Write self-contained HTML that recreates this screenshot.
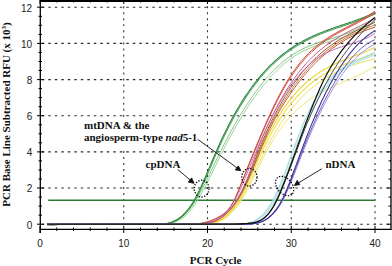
<!DOCTYPE html>
<html><head><meta charset="utf-8"><style>
html,body{margin:0;padding:0;background:#fff;}
svg{display:block;}
.tk{font-family:"Liberation Sans",sans-serif;font-size:10px;fill:#222;}
.tt{font-family:"Liberation Serif",serif;font-size:11px;font-weight:bold;fill:#111;}
</style></head><body>
<svg width="392" height="266" viewBox="0 0 392 266">
<rect width="392" height="266" fill="#fff"/>
<line x1="41.8" y1="224.2" x2="390" y2="224.2" stroke="#2a2a2a" stroke-width="1.1" stroke-dasharray="2.5 4.0"/><line x1="41.8" y1="188.0" x2="390" y2="188.0" stroke="#2a2a2a" stroke-width="1.1" stroke-dasharray="2.5 4.0"/><line x1="41.8" y1="151.9" x2="390" y2="151.9" stroke="#2a2a2a" stroke-width="1.1" stroke-dasharray="2.5 4.0"/><line x1="41.8" y1="115.7" x2="390" y2="115.7" stroke="#2a2a2a" stroke-width="1.1" stroke-dasharray="2.5 4.0"/><line x1="41.8" y1="79.6" x2="390" y2="79.6" stroke="#2a2a2a" stroke-width="1.1" stroke-dasharray="2.5 4.0"/><line x1="41.8" y1="43.4" x2="390" y2="43.4" stroke="#2a2a2a" stroke-width="1.1" stroke-dasharray="2.5 4.0"/><line x1="41.8" y1="7.2" x2="390" y2="7.2" stroke="#2a2a2a" stroke-width="1.1" stroke-dasharray="2.5 4.0"/><line x1="123.75" y1="0.21" x2="123.75" y2="227" stroke="#333" stroke-width="1.1" stroke-dasharray="2 4.027"/><line x1="207.50" y1="0.21" x2="207.50" y2="227" stroke="#333" stroke-width="1.1" stroke-dasharray="2 4.027"/><line x1="291.25" y1="0.21" x2="291.25" y2="227" stroke="#333" stroke-width="1.1" stroke-dasharray="2 4.027"/><line x1="375.00" y1="0.21" x2="375.00" y2="227" stroke="#333" stroke-width="1.1" stroke-dasharray="2 4.027"/>
<line x1="48.2" y1="200.3" x2="375" y2="200.3" stroke="#2b7a34" stroke-width="1.4"/>
<g stroke-linejoin="round">
<path d="M47,224.3 L208,224.3 L209,224.2 L210,224.1 L211,224.0 L212,223.9 L213,223.7 L214,223.4 L215,223.2 L216,222.9 L217,222.5 L218,222.2 L219,221.8 L220,221.3 L221,220.8 L222,220.3 L223,219.8 L224,219.1 L225,218.5 L226,217.8 L227,217.1 L228,216.3 L229,215.4 L230,214.6 L231,213.6 L232,212.6 L233,211.6 L234,210.5 L235,209.3 L236,208.1 L237,206.8 L238,205.5 L239,204.1 L240,202.6 L241,201.1 L242,199.5 L243,197.8 L244,196.1 L245,194.4 L246,192.6 L247,190.7 L248,188.8 L249,186.9 L250,184.9 L251,182.9 L252,180.9 L253,178.9 L254,176.9 L255,174.8 L256,172.7 L257,170.7 L258,168.6 L259,166.5 L260,164.5 L261,162.4 L262,160.4 L263,158.4 L264,156.4 L265,154.5 L266,152.6 L267,150.7 L268,148.9 L269,147.1 L270,145.3 L271,143.6 L272,141.9 L273,140.2 L274,138.6 L275,137.0 L276,135.5 L277,134.0 L278,132.5 L279,131.0 L280,129.6 L281,128.2 L282,126.9 L283,125.6 L284,124.3 L285,123.0 L286,121.8 L287,120.6 L288,119.4 L289,118.2 L290,117.1 L291,116.0 L292,114.9 L293,113.9 L294,112.8 L295,111.8 L296,110.8 L297,109.9 L298,108.9 L299,108.0 L300,107.1 L301,106.3 L302,105.4 L303,104.6 L304,103.8 L305,103.0 L306,102.2 L307,101.4 L308,100.7 L309,100.0 L310,99.3 L311,98.6 L312,97.9 L313,97.3 L314,96.6 L315,96.0 L316,95.4 L317,94.8 L318,94.2 L319,93.6 L320,93.0 L321,92.5 L322,91.9 L323,91.4 L324,90.9 L325,90.3 L326,89.8 L327,89.3 L328,88.8 L329,88.4 L330,87.9 L331,87.4 L332,87.0 L333,86.5 L334,86.0 L335,85.6 L336,85.2 L337,84.7 L338,84.3 L339,83.8 L340,83.4 L341,83.0 L342,82.6 L343,82.1 L344,81.7 L345,81.3 L346,80.8 L347,80.4 L348,80.0 L349,79.6 L350,79.1 L351,78.7 L352,78.2 L353,77.8 L354,77.3 L355,76.9 L356,76.4 L357,76.0 L358,75.5 L359,75.0 L360,74.5 L361,74.0 L362,73.5 L363,73.0 L364,72.5 L365,72.0 L366,71.4 L367,70.9 L368,70.3 L369,69.7 L370,69.2 L371,68.6 L372,67.9 L373,67.3 L374,66.7 L375,66.0" fill="none" stroke="#f2e67c" stroke-width="1.0"/><path d="M47,224.3 L203,224.3 L204,224.2 L205,224.2 L206,224.1 L207,224.0 L208,223.9 L209,223.8 L210,223.6 L211,223.4 L212,223.2 L213,223.0 L214,222.7 L215,222.4 L216,222.1 L217,221.7 L218,221.4 L219,220.9 L220,220.5 L221,219.9 L222,219.4 L223,218.8 L224,218.2 L225,217.5 L226,216.8 L227,216.0 L228,215.2 L229,214.3 L230,213.3 L231,212.4 L232,211.3 L233,210.2 L234,209.0 L235,207.8 L236,206.5 L237,205.2 L238,203.8 L239,202.3 L240,200.8 L241,199.2 L242,197.5 L243,195.8 L244,194.0 L245,192.1 L246,190.2 L247,188.3 L248,186.3 L249,184.3 L250,182.3 L251,180.2 L252,178.1 L253,176.0 L254,173.9 L255,171.8 L256,169.6 L257,167.5 L258,165.4 L259,163.3 L260,161.1 L261,159.0 L262,157.0 L263,154.9 L264,152.9 L265,150.9 L266,148.9 L267,147.0 L268,145.1 L269,143.2 L270,141.4 L271,139.6 L272,137.8 L273,136.1 L274,134.4 L275,132.7 L276,131.1 L277,129.5 L278,127.9 L279,126.3 L280,124.8 L281,123.3 L282,121.8 L283,120.4 L284,118.9 L285,117.5 L286,116.2 L287,114.8 L288,113.5 L289,112.2 L290,110.9 L291,109.6 L292,108.4 L293,107.2 L294,106.0 L295,104.8 L296,103.7 L297,102.5 L298,101.4 L299,100.3 L300,99.3 L301,98.2 L302,97.2 L303,96.2 L304,95.2 L305,94.2 L306,93.3 L307,92.3 L308,91.4 L309,90.5 L310,89.6 L311,88.8 L312,87.9 L313,87.1 L314,86.3 L315,85.5 L316,84.7 L317,83.9 L318,83.2 L319,82.5 L320,81.8 L321,81.1 L322,80.4 L323,79.7 L324,79.0 L325,78.4 L326,77.8 L327,77.1 L328,76.5 L329,76.0 L330,75.4 L331,74.8 L332,74.3 L333,73.7 L334,73.2 L335,72.7 L336,72.2 L337,71.7 L338,71.2 L339,70.7 L340,70.3 L341,69.8 L342,69.4 L343,68.9 L344,68.5 L345,68.1 L346,67.7 L347,67.3 L348,66.9 L349,66.5 L350,66.2 L351,65.8 L352,65.4 L353,65.1 L354,64.8 L355,64.4 L356,64.1 L357,63.8 L358,63.4 L359,63.1 L360,62.8 L361,62.5 L362,62.2 L363,61.9 L364,61.7 L365,61.4 L366,61.1 L367,60.8 L368,60.5 L369,60.3 L370,60.0 L371,59.7 L372,59.5 L373,59.2 L374,59.0 L375,58.7" fill="none" stroke="#f0e060" stroke-width="1.0"/><path d="M47,224.3 L202,224.3 L203,224.2 L204,224.2 L205,224.1 L206,224.1 L207,224.0 L208,223.8 L209,223.7 L210,223.6 L211,223.4 L212,223.2 L213,222.9 L214,222.7 L215,222.4 L216,222.0 L217,221.6 L218,221.2 L219,220.8 L220,220.3 L221,219.7 L222,219.2 L223,218.5 L224,217.9 L225,217.1 L226,216.3 L227,215.5 L228,214.6 L229,213.6 L230,212.6 L231,211.6 L232,210.4 L233,209.2 L234,207.9 L235,206.6 L236,205.2 L237,203.7 L238,202.1 L239,200.5 L240,198.8 L241,197.0 L242,195.1 L243,193.2 L244,191.3 L245,189.3 L246,187.2 L247,185.1 L248,182.9 L249,180.7 L250,178.5 L251,176.3 L252,174.1 L253,171.8 L254,169.5 L255,167.3 L256,165.0 L257,162.7 L258,160.5 L259,158.2 L260,156.0 L261,153.8 L262,151.7 L263,149.6 L264,147.5 L265,145.4 L266,143.4 L267,141.5 L268,139.5 L269,137.6 L270,135.7 L271,133.9 L272,132.1 L273,130.3 L274,128.6 L275,126.9 L276,125.2 L277,123.6 L278,122.0 L279,120.4 L280,118.8 L281,117.3 L282,115.8 L283,114.4 L284,112.9 L285,111.5 L286,110.1 L287,108.8 L288,107.5 L289,106.2 L290,104.9 L291,103.6 L292,102.4 L293,101.2 L294,100.0 L295,98.9 L296,97.7 L297,96.6 L298,95.5 L299,94.5 L300,93.4 L301,92.4 L302,91.4 L303,90.5 L304,89.5 L305,88.6 L306,87.7 L307,86.8 L308,85.9 L309,85.0 L310,84.2 L311,83.4 L312,82.6 L313,81.8 L314,81.1 L315,80.3 L316,79.6 L317,78.9 L318,78.2 L319,77.5 L320,76.8 L321,76.2 L322,75.5 L323,74.9 L324,74.3 L325,73.7 L326,73.1 L327,72.6 L328,72.0 L329,71.5 L330,70.9 L331,70.4 L332,69.9 L333,69.4 L334,68.9 L335,68.5 L336,68.0 L337,67.5 L338,67.1 L339,66.7 L340,66.2 L341,65.8 L342,65.4 L343,65.0 L344,64.6 L345,64.2 L346,63.8 L347,63.4 L348,63.1 L349,62.7 L350,62.3 L351,62.0 L352,61.6 L353,61.3 L354,60.9 L355,60.6 L356,60.2 L357,59.9 L358,59.6 L359,59.2 L360,58.9 L361,58.6 L362,58.2 L363,57.9 L364,57.6 L365,57.3 L366,56.9 L367,56.6 L368,56.3 L369,55.9 L370,55.6 L371,55.3 L372,54.9 L373,54.6 L374,54.3 L375,53.9" fill="none" stroke="#eedc4c" stroke-width="1.1"/><path d="M47,224.3 L197,224.3 L198,224.2 L199,224.2 L200,224.2 L201,224.1 L202,224.1 L203,224.0 L204,224.0 L205,223.9 L206,223.8 L207,223.7 L208,223.5 L209,223.4 L210,223.2 L211,223.0 L212,222.8 L213,222.5 L214,222.2 L215,221.9 L216,221.6 L217,221.2 L218,220.7 L219,220.3 L220,219.7 L221,219.2 L222,218.6 L223,217.9 L224,217.2 L225,216.4 L226,215.6 L227,214.7 L228,213.8 L229,212.8 L230,211.7 L231,210.5 L232,209.3 L233,208.1 L234,206.7 L235,205.3 L236,203.8 L237,202.2 L238,200.5 L239,198.8 L240,197.0 L241,195.1 L242,193.2 L243,191.2 L244,189.1 L245,187.0 L246,184.8 L247,182.6 L248,180.4 L249,178.1 L250,175.8 L251,173.5 L252,171.1 L253,168.8 L254,166.4 L255,164.1 L256,161.8 L257,159.4 L258,157.1 L259,154.8 L260,152.6 L261,150.3 L262,148.1 L263,146.0 L264,143.8 L265,141.7 L266,139.7 L267,137.6 L268,135.6 L269,133.7 L270,131.7 L271,129.9 L272,128.0 L273,126.2 L274,124.4 L275,122.6 L276,120.9 L277,119.2 L278,117.5 L279,115.9 L280,114.3 L281,112.7 L282,111.2 L283,109.7 L284,108.2 L285,106.8 L286,105.4 L287,104.0 L288,102.6 L289,101.3 L290,100.0 L291,98.8 L292,97.5 L293,96.3 L294,95.1 L295,94.0 L296,92.8 L297,91.7 L298,90.6 L299,89.6 L300,88.5 L301,87.5 L302,86.5 L303,85.6 L304,84.6 L305,83.7 L306,82.8 L307,81.9 L308,81.0 L309,80.2 L310,79.4 L311,78.6 L312,77.8 L313,77.0 L314,76.3 L315,75.5 L316,74.8 L317,74.1 L318,73.5 L319,72.8 L320,72.1 L321,71.5 L322,70.9 L323,70.3 L324,69.7 L325,69.1 L326,68.5 L327,68.0 L328,67.4 L329,66.9 L330,66.4 L331,65.9 L332,65.4 L333,64.9 L334,64.4 L335,63.9 L336,63.5 L337,63.0 L338,62.6 L339,62.1 L340,61.7 L341,61.3 L342,60.9 L343,60.4 L344,60.0 L345,59.6 L346,59.2 L347,58.8 L348,58.4 L349,58.0 L350,57.6 L351,57.3 L352,56.9 L353,56.5 L354,56.1 L355,55.7 L356,55.3 L357,54.9 L358,54.6 L359,54.2 L360,53.8 L361,53.4 L362,53.0 L363,52.6 L364,52.2 L365,51.8 L366,51.4 L367,51.0 L368,50.5 L369,50.1 L370,49.7 L371,49.2 L372,48.8 L373,48.3 L374,47.9 L375,47.4" fill="none" stroke="#ecd640" stroke-width="1.2"/><path d="M47,224.3 L164,224.3 L165,224.2 L166,224.2 L167,224.1 L168,224.0 L169,223.8 L170,223.6 L171,223.4 L172,223.1 L173,222.9 L174,222.5 L175,222.2 L176,221.8 L177,221.3 L178,220.9 L179,220.3 L180,219.8 L181,219.1 L182,218.5 L183,217.7 L184,217.0 L185,216.1 L186,215.2 L187,214.3 L188,213.2 L189,212.2 L190,211.0 L191,209.8 L192,208.5 L193,207.2 L194,205.8 L195,204.3 L196,202.8 L197,201.2 L198,199.6 L199,197.9 L200,196.2 L201,194.4 L202,192.6 L203,190.8 L204,188.9 L205,187.0 L206,185.1 L207,183.1 L208,181.2 L209,179.2 L210,177.2 L211,175.1 L212,173.1 L213,171.0 L214,169.0 L215,166.9 L216,164.9 L217,162.8 L218,160.8 L219,158.7 L220,156.7 L221,154.6 L222,152.6 L223,150.6 L224,148.7 L225,146.7 L226,144.8 L227,142.8 L228,140.9 L229,139.1 L230,137.2 L231,135.3 L232,133.5 L233,131.7 L234,129.9 L235,128.1 L236,126.4 L237,124.6 L238,122.9 L239,121.2 L240,119.5 L241,117.9 L242,116.2 L243,114.6 L244,113.0 L245,111.4 L246,109.8 L247,108.3 L248,106.7 L249,105.2 L250,103.7 L251,102.2 L252,100.8 L253,99.3 L254,97.9 L255,96.5 L256,95.1 L257,93.7 L258,92.4 L259,91.1 L260,89.7 L261,88.5 L262,87.2 L263,85.9 L264,84.7 L265,83.5 L266,82.3 L267,81.1 L268,79.9 L269,78.8 L270,77.7 L271,76.6 L272,75.5 L273,74.4 L274,73.4 L275,72.3 L276,71.3 L277,70.3 L278,69.4 L279,68.4 L280,67.5 L281,66.6 L282,65.7 L283,64.8 L284,64.0 L285,63.1 L286,62.3 L287,61.5 L288,60.7 L289,60.0 L290,59.2 L291,58.5 L292,57.8 L293,57.1 L294,56.5 L295,55.8 L296,55.2 L297,54.6 L298,54.0 L299,53.4 L300,52.9 L301,52.3 L302,51.8 L303,51.3 L304,50.8 L305,50.3 L306,49.8 L307,49.4 L308,48.9 L309,48.5 L310,48.1 L311,47.7 L312,47.3 L313,46.9 L314,46.5 L315,46.1 L316,45.7 L317,45.4 L318,45.0 L319,44.7 L320,44.4 L321,44.0 L322,43.7 L323,43.4 L324,43.1 L325,42.8 L326,42.5 L327,42.2 L328,41.9 L329,41.6 L330,41.3 L331,41.0 L332,40.7 L333,40.4 L334,40.1 L335,39.8 L336,39.5 L337,39.2 L338,38.8 L339,38.5 L340,38.2 L341,37.9 L342,37.6 L343,37.3 L344,36.9 L345,36.6 L346,36.2 L347,35.9 L348,35.5 L349,35.2 L350,34.8 L351,34.4 L352,34.0 L353,33.6 L354,33.2 L355,32.8 L356,32.3 L357,31.9 L358,31.4 L359,30.9 L360,30.4 L361,29.9 L362,29.4 L363,28.9 L364,28.3 L365,27.8 L366,27.2 L367,26.6 L368,26.0 L369,25.3 L370,24.7 L371,24.0 L372,23.3 L373,22.6 L374,21.9 L375,21.1" fill="none" stroke="#98d498" stroke-width="1.0"/><path d="M47,224.3 L162,224.3 L163,224.2 L164,224.2 L165,224.1 L166,224.0 L167,223.8 L168,223.7 L169,223.5 L170,223.2 L171,222.9 L172,222.6 L173,222.3 L174,221.9 L175,221.5 L176,221.0 L177,220.5 L178,219.9 L179,219.3 L180,218.6 L181,217.9 L182,217.2 L183,216.3 L184,215.4 L185,214.5 L186,213.5 L187,212.4 L188,211.3 L189,210.1 L190,208.8 L191,207.5 L192,206.1 L193,204.6 L194,203.1 L195,201.5 L196,199.9 L197,198.2 L198,196.5 L199,194.7 L200,192.9 L201,191.1 L202,189.2 L203,187.3 L204,185.3 L205,183.4 L206,181.4 L207,179.4 L208,177.3 L209,175.3 L210,173.2 L211,171.2 L212,169.1 L213,167.0 L214,164.9 L215,162.8 L216,160.8 L217,158.7 L218,156.6 L219,154.6 L220,152.5 L221,150.5 L222,148.5 L223,146.5 L224,144.6 L225,142.6 L226,140.7 L227,138.8 L228,136.9 L229,135.0 L230,133.2 L231,131.3 L232,129.5 L233,127.7 L234,125.9 L235,124.2 L236,122.4 L237,120.7 L238,119.0 L239,117.3 L240,115.6 L241,114.0 L242,112.4 L243,110.8 L244,109.2 L245,107.6 L246,106.0 L247,104.5 L248,103.0 L249,101.5 L250,100.0 L251,98.5 L252,97.1 L253,95.7 L254,94.3 L255,92.9 L256,91.5 L257,90.2 L258,88.8 L259,87.5 L260,86.2 L261,85.0 L262,83.7 L263,82.5 L264,81.3 L265,80.1 L266,78.9 L267,77.7 L268,76.6 L269,75.5 L270,74.4 L271,73.3 L272,72.2 L273,71.2 L274,70.2 L275,69.2 L276,68.2 L277,67.2 L278,66.3 L279,65.4 L280,64.5 L281,63.6 L282,62.7 L283,61.8 L284,61.0 L285,60.2 L286,59.4 L287,58.6 L288,57.9 L289,57.2 L290,56.5 L291,55.8 L292,55.1 L293,54.4 L294,53.8 L295,53.2 L296,52.6 L297,52.0 L298,51.4 L299,50.9 L300,50.3 L301,49.8 L302,49.3 L303,48.8 L304,48.3 L305,47.9 L306,47.4 L307,47.0 L308,46.5 L309,46.1 L310,45.7 L311,45.3 L312,44.9 L313,44.5 L314,44.2 L315,43.8 L316,43.4 L317,43.1 L318,42.8 L319,42.4 L320,42.1 L321,41.8 L322,41.4 L323,41.1 L324,40.8 L325,40.5 L326,40.2 L327,39.9 L328,39.6 L329,39.3 L330,39.0 L331,38.7 L332,38.4 L333,38.1 L334,37.8 L335,37.5 L336,37.2 L337,36.9 L338,36.5 L339,36.2 L340,35.9 L341,35.6 L342,35.2 L343,34.9 L344,34.5 L345,34.2 L346,33.8 L347,33.5 L348,33.1 L349,32.7 L350,32.3 L351,31.9 L352,31.5 L353,31.1 L354,30.6 L355,30.2 L356,29.7 L357,29.2 L358,28.7 L359,28.2 L360,27.7 L361,27.2 L362,26.6 L363,26.1 L364,25.5 L365,24.9 L366,24.3 L367,23.6 L368,23.0 L369,22.3 L370,21.6 L371,20.9 L372,20.2 L373,19.4 L374,18.7 L375,17.9" fill="none" stroke="#80c682" stroke-width="1.0"/><path d="M47,224.3 L160,224.3 L161,224.2 L162,224.2 L163,224.1 L164,224.0 L165,223.9 L166,223.8 L167,223.6 L168,223.4 L169,223.2 L170,222.9 L171,222.6 L172,222.3 L173,221.9 L174,221.5 L175,221.1 L176,220.6 L177,220.1 L178,219.5 L179,218.9 L180,218.2 L181,217.4 L182,216.7 L183,215.8 L184,214.9 L185,213.9 L186,212.9 L187,211.8 L188,210.6 L189,209.4 L190,208.1 L191,206.7 L192,205.2 L193,203.7 L194,202.1 L195,200.4 L196,198.6 L197,196.8 L198,194.9 L199,192.9 L200,190.9 L201,188.8 L202,186.7 L203,184.5 L204,182.3 L205,180.0 L206,177.8 L207,175.5 L208,173.2 L209,170.8 L210,168.5 L211,166.1 L212,163.8 L213,161.4 L214,159.1 L215,156.7 L216,154.4 L217,152.1 L218,149.8 L219,147.6 L220,145.4 L221,143.2 L222,141.0 L223,138.9 L224,136.8 L225,134.7 L226,132.7 L227,130.6 L228,128.7 L229,126.7 L230,124.8 L231,122.8 L232,121.0 L233,119.1 L234,117.3 L235,115.5 L236,113.7 L237,112.0 L238,110.2 L239,108.5 L240,106.9 L241,105.2 L242,103.6 L243,102.0 L244,100.4 L245,98.9 L246,97.4 L247,95.9 L248,94.4 L249,92.9 L250,91.5 L251,90.1 L252,88.7 L253,87.4 L254,86.0 L255,84.7 L256,83.4 L257,82.1 L258,80.9 L259,79.6 L260,78.4 L261,77.2 L262,76.1 L263,74.9 L264,73.8 L265,72.7 L266,71.6 L267,70.5 L268,69.4 L269,68.4 L270,67.4 L271,66.4 L272,65.4 L273,64.4 L274,63.5 L275,62.6 L276,61.6 L277,60.7 L278,59.9 L279,59.0 L280,58.1 L281,57.3 L282,56.5 L283,55.7 L284,54.9 L285,54.1 L286,53.4 L287,52.6 L288,51.9 L289,51.2 L290,50.5 L291,49.8 L292,49.1 L293,48.4 L294,47.8 L295,47.1 L296,46.5 L297,45.9 L298,45.3 L299,44.7 L300,44.1 L301,43.5 L302,42.9 L303,42.4 L304,41.9 L305,41.3 L306,40.8 L307,40.3 L308,39.8 L309,39.3 L310,38.8 L311,38.3 L312,37.9 L313,37.4 L314,36.9 L315,36.5 L316,36.0 L317,35.6 L318,35.2 L319,34.8 L320,34.4 L321,33.9 L322,33.5 L323,33.1 L324,32.8 L325,32.4 L326,32.0 L327,31.6 L328,31.2 L329,30.9 L330,30.5 L331,30.1 L332,29.8 L333,29.4 L334,29.1 L335,28.7 L336,28.4 L337,28.0 L338,27.7 L339,27.4 L340,27.0 L341,26.7 L342,26.3 L343,26.0 L344,25.7 L345,25.3 L346,25.0 L347,24.7 L348,24.3 L349,24.0 L350,23.6 L351,23.3 L352,23.0 L353,22.6 L354,22.3 L355,21.9 L356,21.6 L357,21.2 L358,20.9 L359,20.5 L360,20.1 L361,19.8 L362,19.4 L363,19.0 L364,18.6 L365,18.3 L366,17.9 L367,17.5 L368,17.1 L369,16.7 L370,16.3 L371,15.9 L372,15.4 L373,15.0 L374,14.6 L375,14.1" fill="none" stroke="#3f9a52" stroke-width="1.0"/><path d="M47,224.3 L159,224.3 L160,224.2 L161,224.2 L162,224.1 L163,224.0 L164,223.9 L165,223.8 L166,223.6 L167,223.4 L168,223.2 L169,222.9 L170,222.6 L171,222.3 L172,221.9 L173,221.5 L174,221.1 L175,220.6 L176,220.1 L177,219.5 L178,218.9 L179,218.2 L180,217.5 L181,216.7 L182,215.9 L183,215.0 L184,214.0 L185,213.0 L186,211.9 L187,210.7 L188,209.5 L189,208.2 L190,206.8 L191,205.3 L192,203.8 L193,202.2 L194,200.5 L195,198.7 L196,196.8 L197,194.9 L198,193.0 L199,190.9 L200,188.9 L201,186.7 L202,184.5 L203,182.3 L204,180.1 L205,177.8 L206,175.5 L207,173.2 L208,170.8 L209,168.4 L210,166.1 L211,163.7 L212,161.3 L213,159.0 L214,156.6 L215,154.3 L216,152.0 L217,149.7 L218,147.5 L219,145.2 L220,143.0 L221,140.8 L222,138.7 L223,136.6 L224,134.5 L225,132.4 L226,130.4 L227,128.4 L228,126.4 L229,124.5 L230,122.5 L231,120.7 L232,118.8 L233,116.9 L234,115.1 L235,113.4 L236,111.6 L237,109.9 L238,108.2 L239,106.5 L240,104.8 L241,103.2 L242,101.6 L243,100.0 L244,98.4 L245,96.9 L246,95.4 L247,93.9 L248,92.5 L249,91.0 L250,89.6 L251,88.2 L252,86.8 L253,85.5 L254,84.2 L255,82.9 L256,81.6 L257,80.3 L258,79.1 L259,77.9 L260,76.7 L261,75.5 L262,74.3 L263,73.2 L264,72.1 L265,71.0 L266,69.9 L267,68.8 L268,67.8 L269,66.7 L270,65.7 L271,64.7 L272,63.8 L273,62.8 L274,61.9 L275,61.0 L276,60.1 L277,59.2 L278,58.3 L279,57.4 L280,56.6 L281,55.8 L282,55.0 L283,54.2 L284,53.4 L285,52.6 L286,51.9 L287,51.1 L288,50.4 L289,49.7 L290,49.0 L291,48.3 L292,47.7 L293,47.0 L294,46.3 L295,45.7 L296,45.1 L297,44.5 L298,43.9 L299,43.3 L300,42.7 L301,42.2 L302,41.6 L303,41.0 L304,40.5 L305,40.0 L306,39.5 L307,39.0 L308,38.5 L309,38.0 L310,37.5 L311,37.0 L312,36.6 L313,36.1 L314,35.6 L315,35.2 L316,34.8 L317,34.3 L318,33.9 L319,33.5 L320,33.1 L321,32.7 L322,32.3 L323,31.9 L324,31.5 L325,31.1 L326,30.7 L327,30.4 L328,30.0 L329,29.6 L330,29.3 L331,28.9 L332,28.5 L333,28.2 L334,27.8 L335,27.5 L336,27.1 L337,26.8 L338,26.5 L339,26.1 L340,25.8 L341,25.4 L342,25.1 L343,24.8 L344,24.4 L345,24.1 L346,23.7 L347,23.4 L348,23.1 L349,22.7 L350,22.4 L351,22.0 L352,21.7 L353,21.3 L354,21.0 L355,20.6 L356,20.3 L357,19.9 L358,19.6 L359,19.2 L360,18.8 L361,18.5 L362,18.1 L363,17.7 L364,17.3 L365,16.9 L366,16.5 L367,16.1 L368,15.7 L369,15.3 L370,14.9 L371,14.5 L372,14.0 L373,13.6 L374,13.2 L375,12.7" fill="none" stroke="#28853a" stroke-width="1.1"/><path d="M47,224.3 L201,224.3 L202,224.2 L203,224.1 L204,224.0 L205,223.9 L206,223.7 L207,223.5 L208,223.3 L209,223.1 L210,222.8 L211,222.5 L212,222.2 L213,221.9 L214,221.5 L215,221.1 L216,220.6 L217,220.1 L218,219.6 L219,219.0 L220,218.4 L221,217.8 L222,217.1 L223,216.4 L224,215.6 L225,214.8 L226,213.9 L227,213.0 L228,212.0 L229,211.0 L230,209.9 L231,208.8 L232,207.6 L233,206.4 L234,205.1 L235,203.7 L236,202.3 L237,200.8 L238,199.3 L239,197.7 L240,196.0 L241,194.3 L242,192.5 L243,190.6 L244,188.7 L245,186.7 L246,184.6 L247,182.4 L248,180.2 L249,178.0 L250,175.7 L251,173.4 L252,171.0 L253,168.6 L254,166.2 L255,163.7 L256,161.3 L257,158.8 L258,156.3 L259,153.9 L260,151.4 L261,149.0 L262,146.6 L263,144.2 L264,141.8 L265,139.5 L266,137.2 L267,135.0 L268,132.8 L269,130.7 L270,128.6 L271,126.6 L272,124.6 L273,122.6 L274,120.7 L275,118.8 L276,117.0 L277,115.2 L278,113.4 L279,111.7 L280,110.0 L281,108.3 L282,106.7 L283,105.1 L284,103.5 L285,101.9 L286,100.3 L287,98.8 L288,97.3 L289,95.8 L290,94.3 L291,92.9 L292,91.4 L293,90.0 L294,88.6 L295,87.2 L296,85.8 L297,84.5 L298,83.1 L299,81.8 L300,80.5 L301,79.2 L302,78.0 L303,76.8 L304,75.5 L305,74.3 L306,73.2 L307,72.0 L308,70.9 L309,69.7 L310,68.6 L311,67.6 L312,66.5 L313,65.4 L314,64.4 L315,63.4 L316,62.4 L317,61.4 L318,60.5 L319,59.5 L320,58.6 L321,57.7 L322,56.8 L323,55.9 L324,55.0 L325,54.2 L326,53.3 L327,52.5 L328,51.7 L329,50.9 L330,50.1 L331,49.4 L332,48.6 L333,47.9 L334,47.2 L335,46.5 L336,45.8 L337,45.1 L338,44.4 L339,43.8 L340,43.1 L341,42.5 L342,41.9 L343,41.3 L344,40.7 L345,40.1 L346,39.5 L347,39.0 L348,38.4 L349,37.9 L350,37.4 L351,36.8 L352,36.3 L353,35.8 L354,35.4 L355,34.9 L356,34.4 L357,34.0 L358,33.5 L359,33.1 L360,32.6 L361,32.2 L362,31.8 L363,31.4 L364,31.0 L365,30.6 L366,30.2 L367,29.9 L368,29.5 L369,29.1 L370,28.8 L371,28.4 L372,28.1 L373,27.7 L374,27.4 L375,27.1" fill="none" stroke="#c05a34" stroke-width="1.0"/><path d="M47,224.3 L199,224.3 L200,224.2 L201,224.2 L202,224.1 L203,224.1 L204,224.0 L205,223.8 L206,223.6 L207,223.5 L208,223.2 L209,223.0 L210,222.7 L211,222.4 L212,222.1 L213,221.8 L214,221.4 L215,221.0 L216,220.5 L217,220.0 L218,219.5 L219,218.9 L220,218.3 L221,217.7 L222,217.0 L223,216.3 L224,215.5 L225,214.7 L226,213.8 L227,212.9 L228,211.9 L229,210.9 L230,209.8 L231,208.7 L232,207.5 L233,206.2 L234,204.9 L235,203.5 L236,202.0 L237,200.5 L238,198.9 L239,197.3 L240,195.6 L241,193.8 L242,191.9 L243,190.0 L244,188.0 L245,186.0 L246,183.8 L247,181.6 L248,179.3 L249,177.0 L250,174.6 L251,172.1 L252,169.7 L253,167.1 L254,164.6 L255,162.1 L256,159.5 L257,157.0 L258,154.4 L259,151.9 L260,149.4 L261,147.0 L262,144.6 L263,142.2 L264,139.8 L265,137.5 L266,135.3 L267,133.0 L268,130.8 L269,128.7 L270,126.6 L271,124.5 L272,122.5 L273,120.6 L274,118.6 L275,116.7 L276,114.9 L277,113.0 L278,111.2 L279,109.5 L280,107.7 L281,106.0 L282,104.4 L283,102.7 L284,101.1 L285,99.5 L286,97.9 L287,96.4 L288,94.8 L289,93.3 L290,91.8 L291,90.4 L292,88.9 L293,87.5 L294,86.1 L295,84.7 L296,83.3 L297,82.0 L298,80.6 L299,79.3 L300,78.0 L301,76.8 L302,75.5 L303,74.3 L304,73.1 L305,71.9 L306,70.8 L307,69.6 L308,68.5 L309,67.4 L310,66.3 L311,65.2 L312,64.2 L313,63.2 L314,62.2 L315,61.2 L316,60.2 L317,59.2 L318,58.3 L319,57.4 L320,56.5 L321,55.6 L322,54.7 L323,53.8 L324,53.0 L325,52.2 L326,51.3 L327,50.5 L328,49.8 L329,49.0 L330,48.2 L331,47.5 L332,46.8 L333,46.1 L334,45.3 L335,44.7 L336,44.0 L337,43.3 L338,42.7 L339,42.0 L340,41.4 L341,40.8 L342,40.2 L343,39.6 L344,39.0 L345,38.4 L346,37.9 L347,37.3 L348,36.8 L349,36.2 L350,35.7 L351,35.2 L352,34.7 L353,34.2 L354,33.7 L355,33.2 L356,32.7 L357,32.3 L358,31.8 L359,31.4 L360,30.9 L361,30.5 L362,30.0 L363,29.6 L364,29.2 L365,28.8 L366,28.4 L367,28.0 L368,27.6 L369,27.2 L370,26.8 L371,26.4 L372,26.0 L373,25.6 L374,25.2 L375,24.9" fill="none" stroke="#d8783e" stroke-width="1.0"/><path d="M47,224.3 L196,224.3 L197,224.2 L198,224.2 L199,224.2 L200,224.2 L201,224.1 L202,224.1 L203,224.0 L204,223.9 L205,223.7 L206,223.5 L207,223.3 L208,223.1 L209,222.9 L210,222.6 L211,222.3 L212,222.0 L213,221.6 L214,221.2 L215,220.8 L216,220.4 L217,219.9 L218,219.3 L219,218.8 L220,218.2 L221,217.5 L222,216.9 L223,216.1 L224,215.4 L225,214.5 L226,213.7 L227,212.7 L228,211.8 L229,210.7 L230,209.6 L231,208.4 L232,207.2 L233,205.9 L234,204.5 L235,203.1 L236,201.6 L237,200.0 L238,198.4 L239,196.7 L240,194.9 L241,193.1 L242,191.2 L243,189.2 L244,187.2 L245,185.1 L246,182.8 L247,180.5 L248,178.2 L249,175.7 L250,173.2 L251,170.6 L252,168.0 L253,165.4 L254,162.8 L255,160.1 L256,157.5 L257,154.8 L258,152.2 L259,149.7 L260,147.2 L261,144.7 L262,142.3 L263,139.9 L264,137.6 L265,135.3 L266,133.0 L267,130.8 L268,128.6 L269,126.4 L270,124.3 L271,122.2 L272,120.2 L273,118.2 L274,116.2 L275,114.3 L276,112.4 L277,110.5 L278,108.7 L279,106.9 L280,105.2 L281,103.4 L282,101.7 L283,100.0 L284,98.4 L285,96.8 L286,95.2 L287,93.6 L288,92.0 L289,90.5 L290,89.0 L291,87.5 L292,86.1 L293,84.6 L294,83.2 L295,81.8 L296,80.5 L297,79.1 L298,77.8 L299,76.5 L300,75.2 L301,74.0 L302,72.7 L303,71.5 L304,70.3 L305,69.2 L306,68.0 L307,66.9 L308,65.8 L309,64.7 L310,63.6 L311,62.6 L312,61.6 L313,60.6 L314,59.6 L315,58.6 L316,57.7 L317,56.7 L318,55.8 L319,54.9 L320,54.0 L321,53.2 L322,52.3 L323,51.5 L324,50.7 L325,49.9 L326,49.1 L327,48.3 L328,47.5 L329,46.8 L330,46.1 L331,45.3 L332,44.6 L333,43.9 L334,43.3 L335,42.6 L336,41.9 L337,41.3 L338,40.7 L339,40.0 L340,39.4 L341,38.8 L342,38.2 L343,37.7 L344,37.1 L345,36.5 L346,36.0 L347,35.4 L348,34.9 L349,34.4 L350,33.8 L351,33.3 L352,32.8 L353,32.3 L354,31.8 L355,31.3 L356,30.8 L357,30.4 L358,29.9 L359,29.4 L360,29.0 L361,28.5 L362,28.0 L363,27.6 L364,27.1 L365,26.7 L366,26.2 L367,25.8 L368,25.4 L369,24.9 L370,24.5 L371,24.0 L372,23.6 L373,23.2 L374,22.7 L375,22.3" fill="none" stroke="#9a5c32" stroke-width="1.0"/><path d="M47,224.3 L195,224.3 L196,224.2 L197,224.2 L198,224.2 L199,224.2 L200,224.1 L201,224.1 L202,224.0 L203,223.9 L204,223.8 L205,223.6 L206,223.4 L207,223.2 L208,223.0 L209,222.7 L210,222.5 L211,222.2 L212,221.8 L213,221.5 L214,221.1 L215,220.6 L216,220.2 L217,219.7 L218,219.2 L219,218.6 L220,218.0 L221,217.4 L222,216.7 L223,216.0 L224,215.2 L225,214.4 L226,213.5 L227,212.6 L228,211.6 L229,210.5 L230,209.4 L231,208.2 L232,206.9 L233,205.6 L234,204.2 L235,202.7 L236,201.1 L237,199.4 L238,197.7 L239,196.0 L240,194.1 L241,192.2 L242,190.3 L243,188.3 L244,186.2 L245,184.0 L246,181.6 L247,179.2 L248,176.7 L249,174.0 L250,171.3 L251,168.5 L252,165.7 L253,162.9 L254,160.0 L255,157.2 L256,154.4 L257,151.6 L258,148.9 L259,146.2 L260,143.6 L261,141.1 L262,138.7 L263,136.4 L264,134.0 L265,131.7 L266,129.5 L267,127.2 L268,125.0 L269,122.8 L270,120.7 L271,118.6 L272,116.5 L273,114.5 L274,112.5 L275,110.5 L276,108.6 L277,106.7 L278,104.8 L279,102.9 L280,101.1 L281,99.3 L282,97.6 L283,95.9 L284,94.2 L285,92.5 L286,90.9 L287,89.3 L288,87.7 L289,86.1 L290,84.6 L291,83.1 L292,81.6 L293,80.2 L294,78.8 L295,77.4 L296,76.0 L297,74.7 L298,73.4 L299,72.1 L300,70.8 L301,69.6 L302,68.4 L303,67.2 L304,66.0 L305,64.9 L306,63.7 L307,62.6 L308,61.6 L309,60.5 L310,59.5 L311,58.5 L312,57.5 L313,56.5 L314,55.5 L315,54.6 L316,53.7 L317,52.8 L318,51.9 L319,51.1 L320,50.2 L321,49.4 L322,48.6 L323,47.8 L324,47.0 L325,46.3 L326,45.5 L327,44.8 L328,44.1 L329,43.3 L330,42.7 L331,42.0 L332,41.3 L333,40.6 L334,40.0 L335,39.4 L336,38.7 L337,38.1 L338,37.5 L339,36.9 L340,36.3 L341,35.8 L342,35.2 L343,34.6 L344,34.1 L345,33.5 L346,33.0 L347,32.5 L348,31.9 L349,31.4 L350,30.9 L351,30.4 L352,29.9 L353,29.4 L354,28.9 L355,28.4 L356,27.9 L357,27.4 L358,26.9 L359,26.4 L360,25.9 L361,25.4 L362,24.9 L363,24.4 L364,23.9 L365,23.4 L366,22.9 L367,22.4 L368,21.9 L369,21.4 L370,20.9 L371,20.4 L372,19.9 L373,19.4 L374,18.8 L375,18.3" fill="none" stroke="#c85c84" stroke-width="1.0"/><path d="M47,224.3 L192,224.3 L193,224.2 L194,224.2 L195,224.1 L196,224.0 L197,223.9 L198,223.8 L199,223.7 L200,223.5 L201,223.4 L202,223.2 L203,223.0 L204,222.8 L205,222.6 L206,222.3 L207,222.1 L208,221.8 L209,221.5 L210,221.1 L211,220.8 L212,220.4 L213,220.0 L214,219.6 L215,219.1 L216,218.7 L217,218.2 L218,217.6 L219,217.1 L220,216.5 L221,215.9 L222,215.2 L223,214.5 L224,213.8 L225,212.9 L226,212.0 L227,211.0 L228,210.0 L229,208.8 L230,207.4 L231,206.0 L232,204.4 L233,202.7 L234,200.8 L235,198.8 L236,196.6 L237,194.4 L238,192.0 L239,189.7 L240,187.2 L241,184.8 L242,182.3 L243,179.9 L244,177.4 L245,174.9 L246,172.4 L247,170.0 L248,167.5 L249,165.1 L250,162.6 L251,160.2 L252,157.7 L253,155.3 L254,152.8 L255,150.4 L256,148.0 L257,145.6 L258,143.2 L259,140.8 L260,138.4 L261,136.1 L262,133.7 L263,131.4 L264,129.1 L265,126.8 L266,124.5 L267,122.3 L268,120.0 L269,117.8 L270,115.7 L271,113.5 L272,111.4 L273,109.3 L274,107.2 L275,105.2 L276,103.2 L277,101.2 L278,99.3 L279,97.3 L280,95.5 L281,93.6 L282,91.8 L283,90.0 L284,88.2 L285,86.5 L286,84.8 L287,83.2 L288,81.5 L289,80.0 L290,78.4 L291,76.9 L292,75.4 L293,73.9 L294,72.5 L295,71.1 L296,69.8 L297,68.4 L298,67.1 L299,65.9 L300,64.6 L301,63.4 L302,62.2 L303,61.1 L304,59.9 L305,58.8 L306,57.7 L307,56.7 L308,55.6 L309,54.6 L310,53.6 L311,52.7 L312,51.7 L313,50.8 L314,49.9 L315,49.0 L316,48.2 L317,47.3 L318,46.5 L319,45.7 L320,44.9 L321,44.1 L322,43.4 L323,42.6 L324,41.9 L325,41.2 L326,40.5 L327,39.8 L328,39.2 L329,38.5 L330,37.9 L331,37.3 L332,36.6 L333,36.0 L334,35.4 L335,34.8 L336,34.3 L337,33.7 L338,33.1 L339,32.6 L340,32.0 L341,31.5 L342,30.9 L343,30.4 L344,29.9 L345,29.4 L346,28.8 L347,28.3 L348,27.8 L349,27.3 L350,26.8 L351,26.3 L352,25.7 L353,25.2 L354,24.7 L355,24.2 L356,23.7 L357,23.2 L358,22.6 L359,22.1 L360,21.6 L361,21.0 L362,20.5 L363,20.0 L364,19.4 L365,18.8 L366,18.3 L367,17.7 L368,17.1 L369,16.5 L370,15.9 L371,15.3 L372,14.7 L373,14.0 L374,13.4 L375,12.7" fill="none" stroke="#d85444" stroke-width="1.0"/><path d="M47,224.3 L192,224.3 L193,224.2 L194,224.2 L195,224.1 L196,224.0 L197,223.9 L198,223.8 L199,223.6 L200,223.5 L201,223.3 L202,223.1 L203,222.9 L204,222.7 L205,222.5 L206,222.2 L207,221.9 L208,221.6 L209,221.3 L210,221.0 L211,220.6 L212,220.2 L213,219.8 L214,219.4 L215,219.0 L216,218.5 L217,218.0 L218,217.5 L219,216.9 L220,216.3 L221,215.7 L222,215.1 L223,214.4 L224,213.6 L225,212.8 L226,211.9 L227,210.9 L228,209.8 L229,208.6 L230,207.2 L231,205.7 L232,204.1 L233,202.3 L234,200.4 L235,198.3 L236,196.1 L237,193.8 L238,191.4 L239,189.0 L240,186.5 L241,184.0 L242,181.4 L243,178.9 L244,176.4 L245,173.9 L246,171.4 L247,168.9 L248,166.4 L249,163.9 L250,161.4 L251,158.9 L252,156.4 L253,153.9 L254,151.5 L255,149.0 L256,146.6 L257,144.2 L258,141.8 L259,139.4 L260,137.0 L261,134.6 L262,132.3 L263,130.0 L264,127.7 L265,125.4 L266,123.1 L267,120.8 L268,118.6 L269,116.4 L270,114.2 L271,112.1 L272,109.9 L273,107.8 L274,105.7 L275,103.7 L276,101.7 L277,99.7 L278,97.7 L279,95.8 L280,93.8 L281,92.0 L282,90.1 L283,88.3 L284,86.5 L285,84.8 L286,83.1 L287,81.4 L288,79.8 L289,78.2 L290,76.6 L291,75.1 L292,73.6 L293,72.2 L294,70.7 L295,69.3 L296,68.0 L297,66.7 L298,65.4 L299,64.1 L300,62.9 L301,61.6 L302,60.5 L303,59.3 L304,58.2 L305,57.1 L306,56.0 L307,55.0 L308,53.9 L309,52.9 L310,52.0 L311,51.0 L312,50.1 L313,49.2 L314,48.3 L315,47.4 L316,46.6 L317,45.8 L318,44.9 L319,44.2 L320,43.4 L321,42.6 L322,41.9 L323,41.2 L324,40.5 L325,39.8 L326,39.1 L327,38.4 L328,37.8 L329,37.1 L330,36.5 L331,35.9 L332,35.3 L333,34.7 L334,34.1 L335,33.6 L336,33.0 L337,32.4 L338,31.9 L339,31.3 L340,30.8 L341,30.3 L342,29.7 L343,29.2 L344,28.7 L345,28.2 L346,27.6 L347,27.1 L348,26.6 L349,26.1 L350,25.6 L351,25.1 L352,24.6 L353,24.1 L354,23.5 L355,23.0 L356,22.5 L357,22.0 L358,21.4 L359,20.9 L360,20.4 L361,19.8 L362,19.3 L363,18.7 L364,18.1 L365,17.5 L366,16.9 L367,16.3 L368,15.7 L369,15.1 L370,14.5 L371,13.8 L372,13.2 L373,12.5 L374,11.8 L375,11.1" fill="none" stroke="#d44838" stroke-width="1.0"/><path d="M47,224.3 L199,224.3 L200,224.2 L201,224.2 L202,224.1 L203,224.1 L204,223.9 L205,223.8 L206,223.7 L207,223.5 L208,223.3 L209,223.0 L210,222.8 L211,222.5 L212,222.1 L213,221.8 L214,221.4 L215,220.9 L216,220.4 L217,219.9 L218,219.3 L219,218.6 L220,217.9 L221,217.2 L222,216.4 L223,215.5 L224,214.6 L225,213.6 L226,212.5 L227,211.4 L228,210.2 L229,209.0 L230,207.6 L231,206.2 L232,204.7 L233,203.2 L234,201.5 L235,199.8 L236,198.0 L237,196.1 L238,194.1 L239,192.1 L240,190.0 L241,187.8 L242,185.5 L243,183.3 L244,180.9 L245,178.5 L246,176.1 L247,173.7 L248,171.2 L249,168.8 L250,166.3 L251,163.8 L252,161.3 L253,158.8 L254,156.3 L255,153.9 L256,151.5 L257,149.1 L258,146.7 L259,144.3 L260,142.0 L261,139.8 L262,137.5 L263,135.3 L264,133.1 L265,130.9 L266,128.8 L267,126.7 L268,124.6 L269,122.6 L270,120.6 L271,118.6 L272,116.7 L273,114.8 L274,112.9 L275,111.0 L276,109.2 L277,107.4 L278,105.7 L279,103.9 L280,102.2 L281,100.5 L282,98.9 L283,97.3 L284,95.7 L285,94.1 L286,92.6 L287,91.1 L288,89.6 L289,88.1 L290,86.7 L291,85.3 L292,84.0 L293,82.6 L294,81.3 L295,80.0 L296,78.8 L297,77.5 L298,76.3 L299,75.2 L300,74.0 L301,72.9 L302,71.8 L303,70.7 L304,69.7 L305,68.7 L306,67.7 L307,66.7 L308,65.8 L309,64.9 L310,64.0 L311,63.1 L312,62.3 L313,61.5 L314,60.7 L315,59.9 L316,59.2 L317,58.5 L318,57.8 L319,57.1 L320,56.5 L321,55.9 L322,55.3 L323,54.7 L324,54.1 L325,53.6 L326,53.1 L327,52.6 L328,52.1 L329,51.6 L330,51.2 L331,50.7 L332,50.3 L333,49.9 L334,49.5 L335,49.1 L336,48.7 L337,48.4 L338,48.0 L339,47.7 L340,47.3 L341,47.0 L342,46.7 L343,46.3 L344,46.0 L345,45.7 L346,45.4 L347,45.1 L348,44.7 L349,44.4 L350,44.1 L351,43.8 L352,43.5 L353,43.1 L354,42.8 L355,42.5 L356,42.1 L357,41.8 L358,41.4 L359,41.1 L360,40.7 L361,40.3 L362,39.9 L363,39.5 L364,39.1 L365,38.7 L366,38.2 L367,37.8 L368,37.3 L369,36.8 L370,36.3 L371,35.8 L372,35.2 L373,34.6 L374,34.0 L375,33.4" fill="none" stroke="#b866b8" stroke-width="0.9"/><path d="M47,224.3 L241,224.3 L242,224.2 L243,224.2 L244,224.1 L245,224.0 L246,223.9 L247,223.7 L248,223.6 L249,223.4 L250,223.1 L251,222.9 L252,222.6 L253,222.2 L254,221.8 L255,221.4 L256,220.9 L257,220.4 L258,219.9 L259,219.2 L260,218.6 L261,217.8 L262,217.0 L263,216.2 L264,215.2 L265,214.2 L266,213.2 L267,212.0 L268,210.8 L269,209.5 L270,208.2 L271,206.7 L272,205.2 L273,203.6 L274,201.8 L275,200.0 L276,198.1 L277,196.2 L278,194.1 L279,191.9 L280,189.7 L281,187.4 L282,185.0 L283,182.6 L284,180.1 L285,177.6 L286,175.0 L287,172.4 L288,169.7 L289,167.1 L290,164.4 L291,161.7 L292,159.0 L293,156.2 L294,153.5 L295,150.8 L296,148.1 L297,145.4 L298,142.8 L299,140.2 L300,137.6 L301,135.0 L302,132.4 L303,129.9 L304,127.5 L305,125.1 L306,122.7 L307,120.4 L308,118.2 L309,116.0 L310,113.8 L311,111.7 L312,109.7 L313,107.8 L314,105.8 L315,104.0 L316,102.2 L317,100.4 L318,98.7 L319,97.1 L320,95.5 L321,94.0 L322,92.5 L323,91.0 L324,89.6 L325,88.2 L326,86.9 L327,85.7 L328,84.4 L329,83.2 L330,82.1 L331,81.0 L332,79.9 L333,78.9 L334,77.9 L335,76.9 L336,76.0 L337,75.1 L338,74.2 L339,73.3 L340,72.5 L341,71.7 L342,71.0 L343,70.3 L344,69.5 L345,68.9 L346,68.2 L347,67.6 L348,67.0 L349,66.4 L350,65.8 L351,65.2 L352,64.7 L353,64.1 L354,63.6 L355,63.1 L356,62.6 L357,62.2 L358,61.7 L359,61.2 L360,60.8 L361,60.3 L362,59.9 L363,59.5 L364,59.0 L365,58.6 L366,58.2 L367,57.8 L368,57.4 L369,56.9 L370,56.5 L371,56.1 L372,55.6 L373,55.2 L374,54.8 L375,54.3" fill="none" stroke="#c2e8e8" stroke-width="1.6"/><path d="M47,224.3 L239,224.3 L240,224.2 L241,224.2 L242,224.1 L243,224.0 L244,223.9 L245,223.8 L246,223.6 L247,223.4 L248,223.2 L249,222.9 L250,222.6 L251,222.3 L252,221.9 L253,221.5 L254,221.0 L255,220.5 L256,219.9 L257,219.3 L258,218.7 L259,217.9 L260,217.1 L261,216.3 L262,215.4 L263,214.4 L264,213.3 L265,212.2 L266,211.0 L267,209.7 L268,208.4 L269,206.9 L270,205.4 L271,203.8 L272,202.1 L273,200.3 L274,198.4 L275,196.4 L276,194.3 L277,192.2 L278,189.9 L279,187.6 L280,185.2 L281,182.8 L282,180.3 L283,177.8 L284,175.2 L285,172.5 L286,169.9 L287,167.2 L288,164.5 L289,161.7 L290,159.0 L291,156.3 L292,153.5 L293,150.8 L294,148.1 L295,145.4 L296,142.7 L297,140.1 L298,137.4 L299,134.8 L300,132.3 L301,129.8 L302,127.3 L303,124.8 L304,122.5 L305,120.1 L306,117.8 L307,115.6 L308,113.5 L309,111.3 L310,109.3 L311,107.3 L312,105.4 L313,103.5 L314,101.7 L315,99.9 L316,98.2 L317,96.5 L318,94.9 L319,93.3 L320,91.8 L321,90.4 L322,88.9 L323,87.6 L324,86.2 L325,84.9 L326,83.7 L327,82.5 L328,81.3 L329,80.2 L330,79.1 L331,78.0 L332,77.0 L333,76.0 L334,75.1 L335,74.2 L336,73.3 L337,72.4 L338,71.6 L339,70.8 L340,70.1 L341,69.3 L342,68.6 L343,67.9 L344,67.2 L345,66.6 L346,66.0 L347,65.4 L348,64.8 L349,64.2 L350,63.6 L351,63.1 L352,62.6 L353,62.1 L354,61.6 L355,61.1 L356,60.6 L357,60.2 L358,59.7 L359,59.3 L360,58.8 L361,58.4 L362,58.0 L363,57.5 L364,57.1 L365,56.7 L366,56.2 L367,55.8 L368,55.4 L369,55.0 L370,54.5 L371,54.1 L372,53.6 L373,53.2 L374,52.7 L375,52.2" fill="none" stroke="#a6dcdc" stroke-width="1.2"/><path d="M47,224.3 L242,224.3 L243,224.2 L244,224.2 L245,224.2 L246,224.2 L247,224.1 L248,224.1 L249,224.0 L250,224.0 L251,223.9 L252,223.9 L253,223.8 L254,223.7 L255,223.5 L256,223.4 L257,223.2 L258,223.0 L259,222.7 L260,222.5 L261,222.1 L262,221.8 L263,221.4 L264,220.9 L265,220.4 L266,219.9 L267,219.3 L268,218.6 L269,217.9 L270,217.1 L271,216.2 L272,215.3 L273,214.3 L274,213.3 L275,212.1 L276,210.9 L277,209.6 L278,208.2 L279,206.8 L280,205.2 L281,203.6 L282,201.8 L283,200.0 L284,198.1 L285,196.1 L286,194.0 L287,191.8 L288,189.5 L289,187.2 L290,184.8 L291,182.4 L292,179.9 L293,177.4 L294,174.8 L295,172.3 L296,169.7 L297,167.1 L298,164.5 L299,162.0 L300,159.4 L301,156.9 L302,154.3 L303,151.8 L304,149.3 L305,146.9 L306,144.4 L307,142.0 L308,139.6 L309,137.3 L310,135.0 L311,132.7 L312,130.4 L313,128.1 L314,125.9 L315,123.7 L316,121.5 L317,119.4 L318,117.3 L319,115.2 L320,113.1 L321,111.1 L322,109.1 L323,107.1 L324,105.1 L325,103.2 L326,101.3 L327,99.4 L328,97.6 L329,95.8 L330,94.0 L331,92.3 L332,90.5 L333,88.8 L334,87.2 L335,85.5 L336,83.9 L337,82.3 L338,80.8 L339,79.3 L340,77.8 L341,76.3 L342,74.9 L343,73.4 L344,72.1 L345,70.7 L346,69.4 L347,68.1 L348,66.8 L349,65.6 L350,64.4 L351,63.2 L352,62.1 L353,61.0 L354,59.9 L355,58.9 L356,57.8 L357,56.9 L358,55.9 L359,55.0 L360,54.1 L361,53.2 L362,52.4 L363,51.6 L364,50.8 L365,50.1 L366,49.3 L367,48.7 L368,48.0 L369,47.4 L370,46.8 L371,46.2 L372,45.7 L373,45.2 L374,44.8 L375,44.3" fill="none" stroke="#9688dc" stroke-width="0.9"/><path d="M47,224.3 L242,224.3 L243,224.2 L244,224.2 L245,224.2 L246,224.1 L247,224.1 L248,224.1 L249,224.0 L250,224.0 L251,223.9 L252,223.8 L253,223.8 L254,223.6 L255,223.5 L256,223.3 L257,223.2 L258,222.9 L259,222.7 L260,222.4 L261,222.0 L262,221.7 L263,221.2 L264,220.8 L265,220.3 L266,219.7 L267,219.0 L268,218.4 L269,217.6 L270,216.8 L271,215.9 L272,214.9 L273,213.9 L274,212.8 L275,211.6 L276,210.3 L277,209.0 L278,207.6 L279,206.0 L280,204.4 L281,202.7 L282,200.9 L283,199.0 L284,197.0 L285,194.9 L286,192.7 L287,190.4 L288,188.1 L289,185.7 L290,183.2 L291,180.7 L292,178.2 L293,175.6 L294,173.0 L295,170.4 L296,167.7 L297,165.1 L298,162.5 L299,159.9 L300,157.2 L301,154.7 L302,152.1 L303,149.5 L304,147.0 L305,144.5 L306,142.0 L307,139.5 L308,137.1 L309,134.7 L310,132.3 L311,130.0 L312,127.6 L313,125.3 L314,123.1 L315,120.8 L316,118.6 L317,116.4 L318,114.3 L319,112.1 L320,110.0 L321,107.9 L322,105.9 L323,103.8 L324,101.8 L325,99.9 L326,97.9 L327,96.0 L328,94.1 L329,92.3 L330,90.4 L331,88.6 L332,86.9 L333,85.1 L334,83.4 L335,81.7 L336,80.1 L337,78.4 L338,76.8 L339,75.3 L340,73.7 L341,72.2 L342,70.7 L343,69.3 L344,67.9 L345,66.5 L346,65.1 L347,63.8 L348,62.5 L349,61.2 L350,60.0 L351,58.8 L352,57.6 L353,56.5 L354,55.4 L355,54.3 L356,53.3 L357,52.3 L358,51.3 L359,50.3 L360,49.4 L361,48.6 L362,47.7 L363,46.9 L364,46.1 L365,45.4 L366,44.6 L367,44.0 L368,43.3 L369,42.7 L370,42.1 L371,41.6 L372,41.0 L373,40.6 L374,40.1 L375,39.7" fill="none" stroke="#6a58c4" stroke-width="1.0"/><path d="M47,224.3 L241,224.3 L242,224.2 L243,224.2 L244,224.2 L245,224.1 L246,224.1 L247,224.1 L248,224.0 L249,224.0 L250,223.9 L251,223.8 L252,223.7 L253,223.6 L254,223.5 L255,223.4 L256,223.2 L257,223.0 L258,222.7 L259,222.4 L260,222.1 L261,221.8 L262,221.4 L263,220.9 L264,220.4 L265,219.9 L266,219.3 L267,218.6 L268,217.9 L269,217.1 L270,216.3 L271,215.3 L272,214.4 L273,213.3 L274,212.2 L275,210.9 L276,209.6 L277,208.2 L278,206.8 L279,205.2 L280,203.5 L281,201.7 L282,199.9 L283,197.9 L284,195.8 L285,193.6 L286,191.3 L287,189.0 L288,186.5 L289,184.0 L290,181.5 L291,178.9 L292,176.2 L293,173.5 L294,170.8 L295,168.1 L296,165.4 L297,162.7 L298,159.9 L299,157.2 L300,154.5 L301,151.8 L302,149.1 L303,146.5 L304,143.8 L305,141.2 L306,138.6 L307,136.0 L308,133.4 L309,130.9 L310,128.4 L311,125.9 L312,123.4 L313,121.0 L314,118.6 L315,116.2 L316,113.9 L317,111.6 L318,109.3 L319,107.1 L320,104.9 L321,102.7 L322,100.6 L323,98.5 L324,96.4 L325,94.3 L326,92.3 L327,90.4 L328,88.4 L329,86.5 L330,84.6 L331,82.8 L332,80.9 L333,79.2 L334,77.4 L335,75.7 L336,74.0 L337,72.3 L338,70.7 L339,69.1 L340,67.5 L341,66.0 L342,64.5 L343,63.0 L344,61.5 L345,60.1 L346,58.7 L347,57.3 L348,56.0 L349,54.7 L350,53.4 L351,52.2 L352,51.0 L353,49.8 L354,48.6 L355,47.5 L356,46.4 L357,45.3 L358,44.3 L359,43.2 L360,42.3 L361,41.3 L362,40.4 L363,39.4 L364,38.6 L365,37.7 L366,36.9 L367,36.1 L368,35.3 L369,34.6 L370,33.9 L371,33.2 L372,32.5 L373,31.9 L374,31.3 L375,30.7" fill="none" stroke="#3c3296" stroke-width="1.1"/><path d="M47,224.3 L235,224.3 L236,224.2 L237,224.2 L238,224.1 L239,224.0 L240,224.0 L241,223.9 L242,223.8 L243,223.7 L244,223.7 L245,223.6 L246,223.5 L247,223.5 L248,223.4 L249,223.3 L250,223.2 L251,223.1 L252,223.0 L253,222.8 L254,222.6 L255,222.4 L256,222.1 L257,221.9 L258,221.5 L259,221.1 L260,220.7 L261,220.2 L262,219.6 L263,219.0 L264,218.3 L265,217.5 L266,216.6 L267,215.6 L268,214.6 L269,213.4 L270,212.2 L271,210.9 L272,209.4 L273,207.8 L274,206.2 L275,204.4 L276,202.5 L277,200.4 L278,198.3 L279,196.1 L280,193.8 L281,191.4 L282,189.0 L283,186.5 L284,184.0 L285,181.5 L286,178.9 L287,176.3 L288,173.7 L289,171.1 L290,168.5 L291,165.8 L292,163.1 L293,160.5 L294,157.8 L295,155.1 L296,152.4 L297,149.7 L298,147.0 L299,144.3 L300,141.6 L301,138.9 L302,136.3 L303,133.7 L304,131.1 L305,128.6 L306,126.1 L307,123.6 L308,121.3 L309,118.9 L310,116.6 L311,114.3 L312,112.1 L313,109.9 L314,107.8 L315,105.6 L316,103.5 L317,101.4 L318,99.3 L319,97.3 L320,95.3 L321,93.3 L322,91.3 L323,89.3 L324,87.3 L325,85.4 L326,83.5 L327,81.7 L328,79.8 L329,78.0 L330,76.3 L331,74.5 L332,72.8 L333,71.1 L334,69.5 L335,67.8 L336,66.3 L337,64.7 L338,63.1 L339,61.6 L340,60.2 L341,58.7 L342,57.3 L343,55.8 L344,54.5 L345,53.1 L346,51.7 L347,50.4 L348,49.1 L349,47.8 L350,46.6 L351,45.3 L352,44.1 L353,42.9 L354,41.7 L355,40.5 L356,39.4 L357,38.2 L358,37.1 L359,36.0 L360,34.9 L361,33.8 L362,32.7 L363,31.7 L364,30.6 L365,29.6 L366,28.5 L367,27.5 L368,26.5 L369,25.5 L370,24.5 L371,23.5 L372,22.5 L373,21.5 L374,20.5 L375,19.5" fill="none" stroke="#4a4a4a" stroke-width="1.0"/><path d="M47,224.3 L235,224.3 L236,224.2 L237,224.2 L238,224.1 L239,224.0 L240,223.9 L241,223.9 L242,223.8 L243,223.7 L244,223.7 L245,223.6 L246,223.5 L247,223.5 L248,223.4 L249,223.3 L250,223.2 L251,223.1 L252,223.0 L253,222.8 L254,222.6 L255,222.4 L256,222.1 L257,221.8 L258,221.4 L259,221.0 L260,220.5 L261,220.0 L262,219.4 L263,218.7 L264,218.0 L265,217.1 L266,216.2 L267,215.2 L268,214.1 L269,212.9 L270,211.5 L271,210.1 L272,208.6 L273,207.0 L274,205.2 L275,203.3 L276,201.4 L277,199.3 L278,197.2 L279,194.9 L280,192.6 L281,190.3 L282,187.8 L283,185.3 L284,182.8 L285,180.3 L286,177.6 L287,175.0 L288,172.4 L289,169.7 L290,167.0 L291,164.2 L292,161.5 L293,158.7 L294,155.9 L295,153.2 L296,150.4 L297,147.6 L298,144.8 L299,142.0 L300,139.2 L301,136.5 L302,133.7 L303,131.0 L304,128.2 L305,125.5 L306,122.8 L307,120.2 L308,117.5 L309,114.9 L310,112.4 L311,109.8 L312,107.3 L313,104.8 L314,102.3 L315,99.9 L316,97.5 L317,95.1 L318,92.7 L319,90.4 L320,88.1 L321,85.9 L322,83.8 L323,81.7 L324,79.6 L325,77.6 L326,75.7 L327,73.8 L328,72.0 L329,70.2 L330,68.5 L331,66.8 L332,65.1 L333,63.5 L334,61.9 L335,60.4 L336,58.8 L337,57.4 L338,55.9 L339,54.5 L340,53.1 L341,51.7 L342,50.4 L343,49.1 L344,47.8 L345,46.5 L346,45.3 L347,44.1 L348,42.9 L349,41.7 L350,40.6 L351,39.4 L352,38.4 L353,37.3 L354,36.2 L355,35.2 L356,34.2 L357,33.1 L358,32.2 L359,31.2 L360,30.2 L361,29.3 L362,28.4 L363,27.5 L364,26.6 L365,25.7 L366,24.8 L367,23.9 L368,23.1 L369,22.2 L370,21.4 L371,20.5 L372,19.7 L373,18.9 L374,18.1 L375,17.3" fill="none" stroke="#0d0d0d" stroke-width="1.2"/>
</g>
<path d="M47,224.5 L52,224.7 L60,224.4 L240,224.2" fill="none" stroke="#2a2a22" stroke-width="1.4"/>
<g stroke="#000">
<line x1="40.3" y1="0" x2="40.3" y2="233" stroke-width="1.3"/>
<line x1="40" y1="229.3" x2="391.5" y2="229.3" stroke-width="1.3"/>
<line x1="40" y1="1" x2="391.5" y2="1" stroke-width="2"/>
<line x1="391" y1="0" x2="391" y2="230" stroke-width="1.3"/>
<g stroke-width="1"><line x1="37" y1="224.2" x2="44" y2="224.2"/><line x1="387" y1="224.2" x2="391" y2="224.2"/><line x1="38.5" y1="215.2" x2="42" y2="215.2"/><line x1="388.5" y1="215.2" x2="391" y2="215.2"/><line x1="38.5" y1="206.1" x2="42" y2="206.1"/><line x1="388.5" y1="206.1" x2="391" y2="206.1"/><line x1="38.5" y1="197.1" x2="42" y2="197.1"/><line x1="388.5" y1="197.1" x2="391" y2="197.1"/><line x1="37" y1="188.0" x2="44" y2="188.0"/><line x1="387" y1="188.0" x2="391" y2="188.0"/><line x1="38.5" y1="179.0" x2="42" y2="179.0"/><line x1="388.5" y1="179.0" x2="391" y2="179.0"/><line x1="38.5" y1="170.0" x2="42" y2="170.0"/><line x1="388.5" y1="170.0" x2="391" y2="170.0"/><line x1="38.5" y1="160.9" x2="42" y2="160.9"/><line x1="388.5" y1="160.9" x2="391" y2="160.9"/><line x1="37" y1="151.9" x2="44" y2="151.9"/><line x1="387" y1="151.9" x2="391" y2="151.9"/><line x1="38.5" y1="142.8" x2="42" y2="142.8"/><line x1="388.5" y1="142.8" x2="391" y2="142.8"/><line x1="38.5" y1="133.8" x2="42" y2="133.8"/><line x1="388.5" y1="133.8" x2="391" y2="133.8"/><line x1="38.5" y1="124.8" x2="42" y2="124.8"/><line x1="388.5" y1="124.8" x2="391" y2="124.8"/><line x1="37" y1="115.7" x2="44" y2="115.7"/><line x1="387" y1="115.7" x2="391" y2="115.7"/><line x1="38.5" y1="106.7" x2="42" y2="106.7"/><line x1="388.5" y1="106.7" x2="391" y2="106.7"/><line x1="38.5" y1="97.6" x2="42" y2="97.6"/><line x1="388.5" y1="97.6" x2="391" y2="97.6"/><line x1="38.5" y1="88.6" x2="42" y2="88.6"/><line x1="388.5" y1="88.6" x2="391" y2="88.6"/><line x1="37" y1="79.6" x2="44" y2="79.6"/><line x1="387" y1="79.6" x2="391" y2="79.6"/><line x1="38.5" y1="70.5" x2="42" y2="70.5"/><line x1="388.5" y1="70.5" x2="391" y2="70.5"/><line x1="38.5" y1="61.5" x2="42" y2="61.5"/><line x1="388.5" y1="61.5" x2="391" y2="61.5"/><line x1="38.5" y1="52.4" x2="42" y2="52.4"/><line x1="388.5" y1="52.4" x2="391" y2="52.4"/><line x1="37" y1="43.4" x2="44" y2="43.4"/><line x1="387" y1="43.4" x2="391" y2="43.4"/><line x1="38.5" y1="34.4" x2="42" y2="34.4"/><line x1="388.5" y1="34.4" x2="391" y2="34.4"/><line x1="38.5" y1="25.3" x2="42" y2="25.3"/><line x1="388.5" y1="25.3" x2="391" y2="25.3"/><line x1="38.5" y1="16.3" x2="42" y2="16.3"/><line x1="388.5" y1="16.3" x2="391" y2="16.3"/><line x1="37" y1="7.2" x2="44" y2="7.2"/><line x1="387" y1="7.2" x2="391" y2="7.2"/><line x1="40.00" y1="226" x2="40.00" y2="233"/><line x1="40.00" y1="0" x2="40.00" y2="4"/><line x1="56.75" y1="227.5" x2="56.75" y2="231"/><line x1="56.75" y1="0" x2="56.75" y2="2.5"/><line x1="73.50" y1="227.5" x2="73.50" y2="231"/><line x1="73.50" y1="0" x2="73.50" y2="2.5"/><line x1="90.25" y1="227.5" x2="90.25" y2="231"/><line x1="90.25" y1="0" x2="90.25" y2="2.5"/><line x1="107.00" y1="227.5" x2="107.00" y2="231"/><line x1="107.00" y1="0" x2="107.00" y2="2.5"/><line x1="123.75" y1="226" x2="123.75" y2="233"/><line x1="123.75" y1="0" x2="123.75" y2="4"/><line x1="140.50" y1="227.5" x2="140.50" y2="231"/><line x1="140.50" y1="0" x2="140.50" y2="2.5"/><line x1="157.25" y1="227.5" x2="157.25" y2="231"/><line x1="157.25" y1="0" x2="157.25" y2="2.5"/><line x1="174.00" y1="227.5" x2="174.00" y2="231"/><line x1="174.00" y1="0" x2="174.00" y2="2.5"/><line x1="190.75" y1="227.5" x2="190.75" y2="231"/><line x1="190.75" y1="0" x2="190.75" y2="2.5"/><line x1="207.50" y1="226" x2="207.50" y2="233"/><line x1="207.50" y1="0" x2="207.50" y2="4"/><line x1="224.25" y1="227.5" x2="224.25" y2="231"/><line x1="224.25" y1="0" x2="224.25" y2="2.5"/><line x1="241.00" y1="227.5" x2="241.00" y2="231"/><line x1="241.00" y1="0" x2="241.00" y2="2.5"/><line x1="257.75" y1="227.5" x2="257.75" y2="231"/><line x1="257.75" y1="0" x2="257.75" y2="2.5"/><line x1="274.50" y1="227.5" x2="274.50" y2="231"/><line x1="274.50" y1="0" x2="274.50" y2="2.5"/><line x1="291.25" y1="226" x2="291.25" y2="233"/><line x1="291.25" y1="0" x2="291.25" y2="4"/><line x1="308.00" y1="227.5" x2="308.00" y2="231"/><line x1="308.00" y1="0" x2="308.00" y2="2.5"/><line x1="324.75" y1="227.5" x2="324.75" y2="231"/><line x1="324.75" y1="0" x2="324.75" y2="2.5"/><line x1="341.50" y1="227.5" x2="341.50" y2="231"/><line x1="341.50" y1="0" x2="341.50" y2="2.5"/><line x1="358.25" y1="227.5" x2="358.25" y2="231"/><line x1="358.25" y1="0" x2="358.25" y2="2.5"/><line x1="375.00" y1="226" x2="375.00" y2="233"/><line x1="375.00" y1="0" x2="375.00" y2="4"/></g>
</g>
<text x="32.2" y="228.6" text-anchor="end" class="tk">0</text><text x="32.2" y="192.4" text-anchor="end" class="tk">2</text><text x="32.2" y="156.3" text-anchor="end" class="tk">4</text><text x="32.2" y="120.1" text-anchor="end" class="tk">6</text><text x="32.2" y="84.0" text-anchor="end" class="tk">8</text><text x="32.2" y="47.8" text-anchor="end" class="tk">10</text><text x="32.2" y="11.6" text-anchor="end" class="tk">12</text><text x="40.00" y="246.5" text-anchor="middle" class="tk">0</text><text x="123.75" y="246.5" text-anchor="middle" class="tk">10</text><text x="207.50" y="246.5" text-anchor="middle" class="tk">20</text><text x="291.25" y="246.5" text-anchor="middle" class="tk">30</text><text x="375.00" y="246.5" text-anchor="middle" class="tk">40</text>
<text class="tt" x="215.6" y="263.6" text-anchor="middle">PCR Cycle</text>
<text class="tt" transform="translate(9.8,114.5) rotate(-90)" text-anchor="middle">PCR Base Line Subtracted RFU (x 10<tspan dy="-4" font-size="7">3</tspan><tspan dy="4">)</tspan></text>
<rect x="82" y="117" width="115" height="30" fill="#fff"/>
<text class="tt" x="84" y="129">mtDNA &amp; the</text>
<text class="tt" x="84" y="141">angiosperm-type <tspan font-style="italic">nad</tspan>5-1</text>
<text class="tt" x="145.5" y="168">cpDNA</text>
<text class="tt" x="325.5" y="168">nDNA</text>
<g stroke="#111" stroke-width="0.9" fill="#111">
<line x1="177.8" y1="169.6" x2="190.5" y2="180.2"/>
<polygon points="194,183.3 188.3,182.1 191.6,177.9"/>
<line x1="197.5" y1="139.2" x2="237.5" y2="168.2"/>
<polygon points="240.8,170.6 235.3,169.9 238.3,165.9"/>
<line x1="321.7" y1="168.8" x2="298" y2="183.2"/>
<polygon points="294.5,185.4 297.2,180.4 299.8,184.6"/>
</g>
<g fill="none" stroke="#000" stroke-width="1.3" stroke-dasharray="1.3 1.5">
<ellipse cx="201.6" cy="188.6" rx="7.4" ry="8.4"/>
<ellipse cx="249.4" cy="177.2" rx="7.6" ry="8.8"/>
<ellipse cx="284.6" cy="186" rx="11" ry="7.5" transform="rotate(50 284.6 186)"/>
</g>
</svg>
</body></html>
